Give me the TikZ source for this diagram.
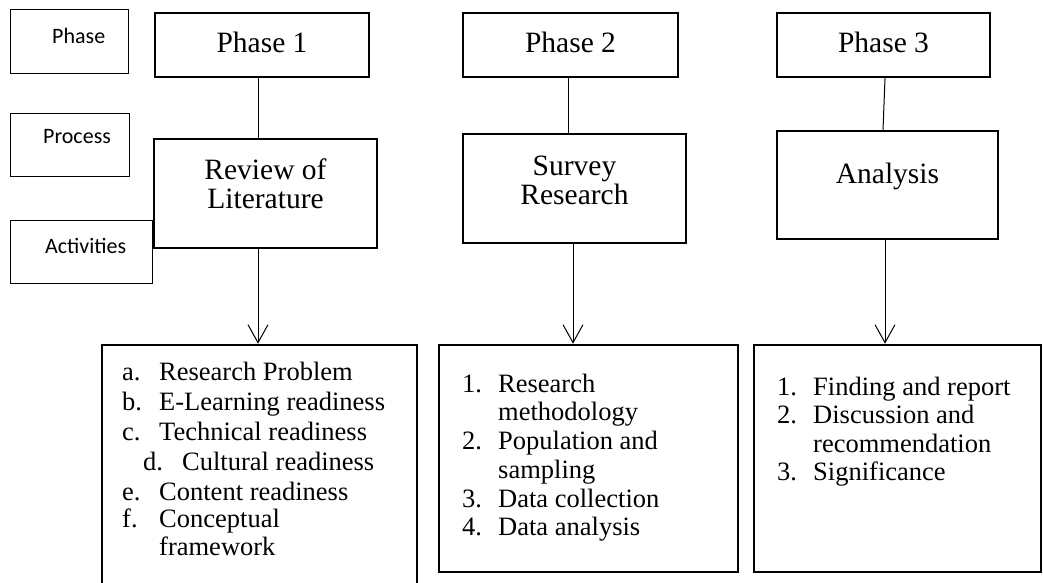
\documentclass[tikz,border=0pt]{standalone}
\usepackage{fontspec}
\setmainfont{Liberation Serif}
\newfontfamily\labelfont{Carlito}
\usetikzlibrary{arrows.meta}
\tikzset{
  lbl/.style={draw, line width=0.9pt, inner sep=0pt},
  lbltext/.style={font=\labelfont\fontsize{22}{26}\selectfont, anchor=base west, inner sep=0pt},
  titlebox/.style={draw, line width=2.3pt, inner sep=0pt},
  titletext/.style={font=\fontsize{29.5}{30}\selectfont, anchor=base, inner sep=0pt, text height=19pt, text depth=2pt},
  listbox/.style={draw, line width=2.6pt, inner sep=0pt},
  itemtext/.style={font=\fontsize{26.5}{28}\selectfont, anchor=base west, inner sep=0pt},
  conn/.style={line width=1pt},
  arr/.style={conn, -{Straight Barb[length=18pt,width=20pt]}},
}
\begin{document}
\begin{tikzpicture}[x=1pt,y=-1pt]
\useasboundingbox (0,0) rectangle (1043,582);
\clip (0,0) rectangle (1043,582);

% legend boxes
\node[lbl, minimum width=118pt, minimum height=64pt] (lab1) at (69,41) {};
\node[lbl, minimum width=119pt, minimum height=63pt] (lab2) at (69.5,144.5) {};
\node[lbl, minimum width=142pt, minimum height=63pt] (lab3) at (81,251.5) {};
\node[lbltext] (lab1t) at (52,43) {Phase};
\node[lbltext] (lab2t) at (43,143) {Process};
\node[lbltext] (lab3t) at (45,253) {Activities};

% phase boxes
\node[titlebox, minimum width=214pt, minimum height=64pt] (p1) at (262,45) {};
\node[titlebox, minimum width=215pt, minimum height=64pt] (p2) at (570.5,45) {};
\node[titlebox, minimum width=213pt, minimum height=64pt] (p3) at (883.5,45) {};
\node[titletext] (p1t) at (262,52) {Phase 1};
\node[titletext] (p2t) at (570.5,52) {Phase 2};
\node[titletext] (p3t) at (883.5,52) {Phase 3};

% process boxes
\node[titlebox, minimum width=223pt, minimum height=109pt] (r1) at (265.5,193.5) {};
\node[titlebox, minimum width=223pt, minimum height=109pt] (r2) at (574.5,188.5) {};
\node[titlebox, minimum width=221pt, minimum height=108pt] (r3) at (887.5,185) {};
\node[titletext] (r1a) at (265.5,179) {Review of};
\node[titletext] (r1b) at (265.5,208) {Literature};
\node[titletext] (r2a) at (574.5,175) {Survey};
\node[titletext] (r2b) at (574.5,204) {Research};
\node[titletext] (r3a) at (887.5,183) {Analysis};

% activity boxes
\node[listbox, minimum width=315pt, minimum height=256pt] (b1) at (259.5,473) {};
\node[listbox, minimum width=299pt, minimum height=227pt] (b2) at (588.5,458.5) {};
\node[listbox, minimum width=287pt, minimum height=227pt] (b3) at (897.5,458.5) {};

% list 1
\node[itemtext] (b1al) at (122,380) {a.};
\node[itemtext] (b1at) at (159,380) {Research Problem};
\node[itemtext] (b1bl) at (122,410) {b.};
\node[itemtext] (b1bt) at (159,410) {E-Learning readiness};
\node[itemtext] (b1cl) at (122,440) {c.};
\node[itemtext] (b1ct) at (159,440) {Technical readiness};
\node[itemtext] (b1dl) at (143,470) {d.};
\node[itemtext] (b1dt) at (182,470) {Cultural readiness};
\node[itemtext] (b1el) at (122,500) {e.};
\node[itemtext] (b1et) at (159,500) {Content readiness};
\node[itemtext] (b1fl) at (122,527) {f.};
\node[itemtext] (b1ft) at (159,527) {Conceptual};
\node[itemtext] (b1fu) at (159,555) {framework};

% list 2
\node[itemtext] (b2al) at (462,392) {1.};
\node[itemtext] (b2at) at (498,392) {Research};
\node[itemtext] (b2au) at (498,420) {methodology};
\node[itemtext] (b2bl) at (462,449) {2.};
\node[itemtext] (b2bt) at (498,449) {Population and};
\node[itemtext] (b2bu) at (498,478) {sampling};
\node[itemtext] (b2cl) at (462,507) {3.};
\node[itemtext] (b2ct) at (498,507) {Data collection};
\node[itemtext] (b2dl) at (462,535) {4.};
\node[itemtext] (b2dt) at (498,535) {Data analysis};

% list 3
\node[itemtext] (b3al) at (777,395) {1.};
\node[itemtext] (b3at) at (813,395) {Finding and report};
\node[itemtext] (b3bl) at (777,423) {2.};
\node[itemtext] (b3bt) at (813,423) {Discussion and};
\node[itemtext] (b3bu) at (813,452) {recommendation};
\node[itemtext] (b3cl) at (777,480) {3.};
\node[itemtext] (b3ct) at (813,480) {Significance};

% connector x positions
\coordinate (x1) at (258,0);
\coordinate (x2) at (568,0);
\coordinate (x3t) at (885,0);
\coordinate (x3b) at (883,0);
\coordinate (y2) at (573,0);
\coordinate (y3) at (885,0);

\draw[conn] (x1 |- p1.south) -- (x1 |- r1.north);
\draw[conn] (x2 |- p2.south) -- (x2 |- r2.north);
\draw[conn] (x3t |- p3.south) -- (x3b |- r3.north);

\draw[arr] (x1 |- r1.south) -- (x1 |- b1.north);
\draw[arr] (y2 |- r2.south) -- (y2 |- b2.north);
\draw[arr] (y3 |- r3.south) -- (y3 |- b3.north);
\end{tikzpicture}
\end{document}
